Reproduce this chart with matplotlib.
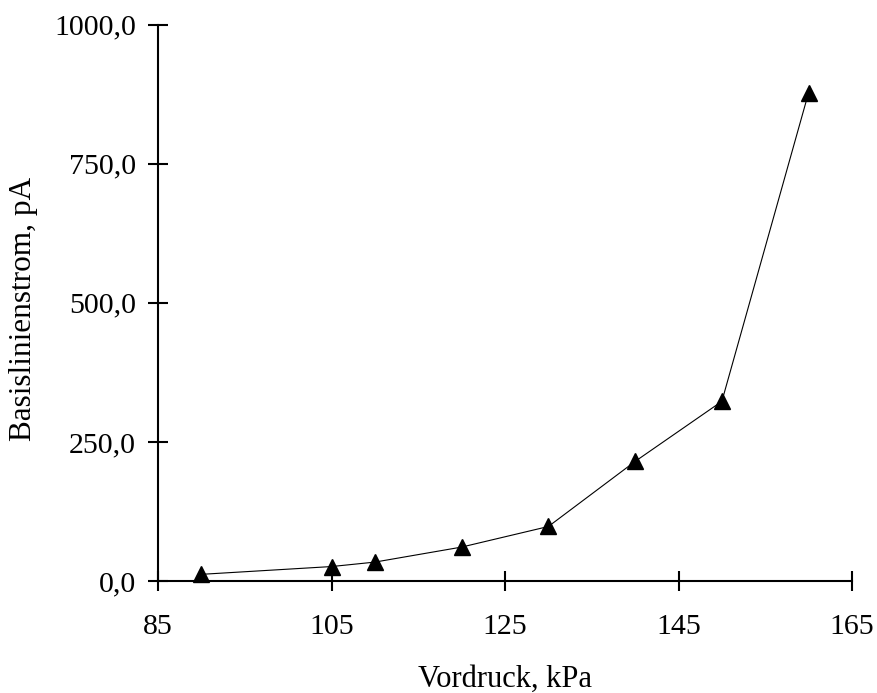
import matplotlib
matplotlib.use("Agg")
import matplotlib.pyplot as plt
from matplotlib.ticker import FuncFormatter

# Vordruck (kPa) und gemessener Basislinienstrom (pA)
vordruck = [90, 105, 110, 120, 130, 140, 150, 160]
strom = [12, 26, 34, 61, 98, 215, 323, 878]

x_ticks = [85, 105, 125, 145, 165]
y_ticks = [0, 250, 500, 750, 1000]

plt.rcParams["font.family"] = ["Liberation Serif", "DejaVu Serif"]

fig = plt.figure(figsize=(8.77, 6.93), dpi=100)
ax = fig.add_axes([0.1802, 0.1616, 0.7913, 0.8028])

ax.plot(vordruck, strom, color="black", linewidth=0.8,
        marker="^", markersize=12, markerfacecolor="black",
        markeredgecolor="black", clip_on=False, zorder=3)

ax.set_xlim(85, 165)
ax.set_ylim(0, 1000)
ax.set_xticks(x_ticks)
ax.set_yticks(y_ticks)
ax.yaxis.set_major_formatter(FuncFormatter(lambda v, p: f"{v:.1f}".replace(".", ",")))

for side in ("top", "right"):
    ax.spines[side].set_visible(False)
for side in ("left", "bottom"):
    ax.spines[side].set_linewidth(1.5)

ax.tick_params(axis="both", direction="inout", length=15, width=1.5,
               labelsize=21.5, colors="black")
ax.tick_params(axis="x", pad=16.5)
ax.tick_params(axis="y", pad=8.5)

ax.set_xlabel("Vordruck, kPa", fontsize=22, va="baseline")
ax.xaxis.set_label_coords(0.5, -0.191)
ax.set_ylabel("Basislinienstrom, pA", fontsize=22.5, va="center")
ax.yaxis.set_label_coords(-0.194, 0.489)

fig.savefig("out.png", dpi=100)
